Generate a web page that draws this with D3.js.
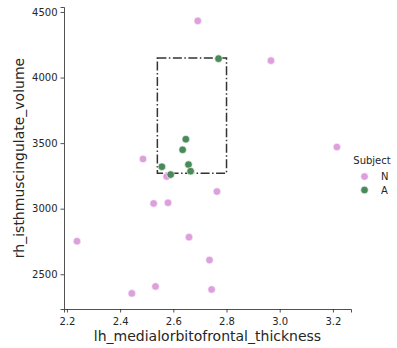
<!DOCTYPE html>
<html>
<head>
<meta charset="utf-8">
<script src="https://cdn.jsdelivr.net/npm/d3@7"></script>
<style>
  body { margin: 0; background: #fff; }
  text { font-family: "DejaVu Sans", sans-serif; fill: #262626; }
</style>
</head>
<body>
<div id="chart"></div>
<script>
// --- DATA ---
const subjects = ["N", "A"];
const nThickness = [2.692, 2.967, 3.215, 2.486, 2.575, 2.764, 2.526, 2.580, 2.659, 2.238, 2.736, 2.533, 2.444, 2.744];
const nVolume    = [4432, 4129, 3470, 3379, 3245, 3131, 3040, 3045, 2783, 2752, 2608, 2407, 2354, 2384];
const aThickness = [2.770, 2.647, 2.635, 2.557, 2.657, 2.590, 2.665];
const aVolume    = [4144, 3530, 3449, 3320, 3336, 3260, 3286];
const xTicks = [2.2, 2.4, 2.6, 2.8, 3.0, 3.2];
const yTicks = [2500, 3000, 3500, 4000, 4500];
const boxX = [2.54, 2.80];
const boxY = [3270, 4150];

const colors = { N: "#dda0dd", A: "#4a8a58" };

const points = [
  ...nThickness.map((x, i) => ({ x, y: nVolume[i], s: "N" })),
  ...aThickness.map((x, i) => ({ x, y: aVolume[i], s: "A" }))
];

// --- LAYOUT ---
const width = 397, height = 348;
const margin = { left: 64, right: 46, top: 7, bottom: 39 };

const svg = d3.select("#chart").append("svg")
  .attr("width", width).attr("height", height);

const x = d3.scaleLinear().domain([2.189, 3.268]).range([margin.left, width - margin.right]);
const y = d3.scaleLinear().domain([2235, 4538]).range([height - margin.bottom, margin.top]);

// ejes
const gx = svg.append("g")
  .attr("transform", `translate(0,${height - margin.bottom})`)
  .call(d3.axisBottom(x).tickValues(xTicks).tickFormat(d3.format(".1f")).tickSizeOuter(0).tickSize(3.5));
const gy = svg.append("g")
  .attr("transform", `translate(${margin.left},0)`)
  .call(d3.axisLeft(y).tickValues(yTicks).tickFormat(d3.format("d")).tickSizeOuter(0).tickSize(3.5));

[gx, gy].forEach(g => {
  g.selectAll("path.domain").attr("stroke", "#262626").attr("stroke-width", 0.8);
  g.selectAll(".tick line").attr("stroke", "#262626").attr("stroke-width", 0.8);
  g.selectAll(".tick text").style("font-size", "10px").style("font-family", "DejaVu Sans").attr("fill", "#262626");
});
gx.selectAll(".tick text").attr("dy", "0.95em");

svg.append("text")
  .attr("x", (margin.left + width - margin.right) / 2)
  .attr("y", 341)
  .attr("text-anchor", "middle")
  .style("font-size", "14px")
  .text("lh_medialorbitofrontal_thickness");

svg.append("text")
  .attr("transform", `translate(24,${(margin.top + height - margin.bottom) / 2}) rotate(-90)`)
  .attr("text-anchor", "middle")
  .style("font-size", "14px")
  .text("rh_isthmuscingulate_volume");

// caja punto-raya
svg.append("rect")
  .attr("x", x(boxX[0]))
  .attr("y", y(boxY[1]))
  .attr("width", x(boxX[1]) - x(boxX[0]))
  .attr("height", y(boxY[0]) - y(boxY[1]))
  .attr("fill", "none")
  .attr("stroke", "#333")
  .attr("stroke-width", 1.5)
  .attr("stroke-dasharray", "9,2.5,1.5,2.5");

// puntos
svg.append("g").selectAll("circle")
  .data(points)
  .join("circle")
  .attr("cx", d => x(d.x))
  .attr("cy", d => y(d.y))
  .attr("r", 3.8)
  .attr("fill", d => colors[d.s])
  .attr("stroke", "#fff")
  .attr("stroke-width", 0.6);

// leyenda
const legend = svg.append("g");
legend.append("text")
  .attr("x", 372).attr("y", 164)
  .attr("text-anchor", "middle")
  .style("font-size", "10px")
  .text("Subject");
subjects.forEach((s, i) => {
  legend.append("circle")
    .attr("cx", 364.5).attr("cy", 176.5 + i * 13.5)
    .attr("r", 3.8)
    .attr("fill", colors[s])
    .attr("stroke", "#fff").attr("stroke-width", 0.6);
  legend.append("text")
    .attr("x", 381).attr("y", 180 + i * 13.5)
    .style("font-size", "10px")
    .text(s);
});
</script>
</body>
</html>
